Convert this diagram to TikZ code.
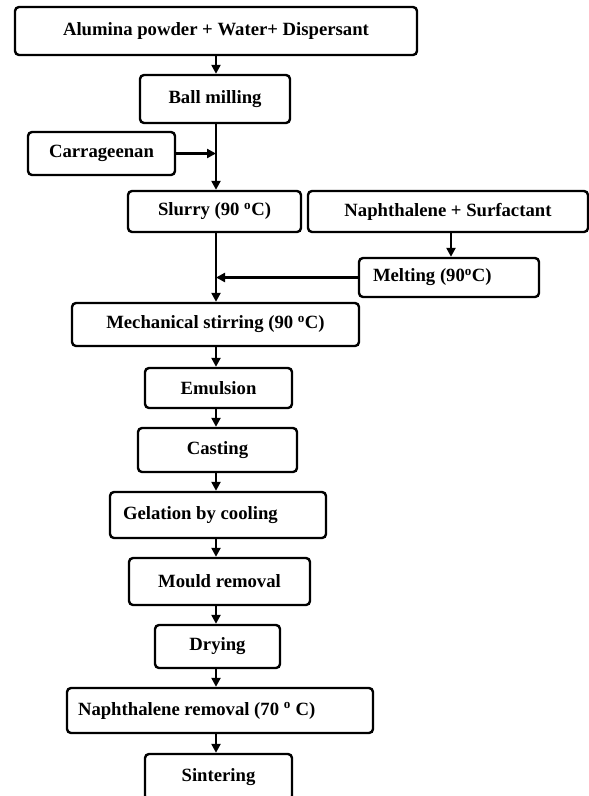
\documentclass[tikz,border=0pt]{standalone}
\usepackage{fontspec}
\setmainfont{Liberation Serif}
\usetikzlibrary{arrows.meta}
\begin{document}
\begin{tikzpicture}[x=1pt,y=-1pt,
  box/.style={draw, line width=2.4pt, rounded corners=4pt, inner sep=0pt,
    font=\bfseries\fontsize{18.7}{21}\selectfont, align=center},
  lbox/.style={box, align=flush left},
  conn/.style={line width=2.6pt, -{Triangle[length=9pt,width=9pt]}}]
\useasboundingbox (0,0) rectangle (589,796);
\coordinate (sp) at (216,0);
\coordinate (nx) at (451,0);
\node[box, minimum width=402pt, minimum height=48pt] (alum) at (216,31) {Alumina powder + Water+ Dispersant};
\node[box, minimum width=150pt, minimum height=48pt] (ball) at (215,99) {Ball milling};
\node[box, minimum width=147pt, minimum height=43pt] (carr) at (101.5,153.5) {Carrageenan};
\node[box, minimum width=173pt, minimum height=41pt] (slurry) at (214.5,211.5) {Slurry (90 \textsuperscript{o}C)};
\node[box, minimum width=280pt, minimum height=41pt] (naph) at (448,211.5) {Naphthalene + Surfactant};
\node[lbox, text width=152pt, inner xsep=14pt, minimum height=39pt] (melt) at (449,277.5) {Melting (90\textsuperscript{o}C)};
\node[box, minimum width=287pt, minimum height=43pt] (mech) at (215.5,324.5) {Mechanical stirring (90 \textsuperscript{o}C)};
\node[box, minimum width=147pt, minimum height=40pt] (emul) at (218.5,388) {Emulsion};
\node[box, minimum width=159pt, minimum height=44pt] (cast) at (217.5,450) {Casting};
\node[lbox, text width=190pt, inner xsep=13pt, minimum height=46pt] (gel) at (218,515) {Gelation by cooling};
\node[box, minimum width=181pt, minimum height=47pt] (mould) at (219.5,581.5) {Mould removal};
\node[box, minimum width=125pt, minimum height=43pt] (dry) at (217.5,646.5) {Drying};
\node[lbox, text width=284pt, inner xsep=11pt, minimum height=45pt] (nrem) at (220,710.5) {Naphthalene removal (70 \textsuperscript{o} C)};
\node[box, minimum width=147pt, minimum height=46pt] (sint) at (218.5,777) {Sintering};
\draw[conn] (alum.south -| sp) -- (ball.north -| sp);
\draw[conn] (ball.south -| sp) -- (slurry.north -| sp);
\draw[conn] (carr.east) -- (carr.east -| sp);
\draw[conn] (slurry.south -| sp) -- (mech.north -| sp);
\draw[conn] (naph.south -| nx) -- (melt.north -| nx);
\draw[conn] (melt.west) -- (melt.west -| sp);
\draw[conn] (mech.south -| sp) -- (emul.north -| sp);
\draw[conn] (emul.south -| sp) -- (cast.north -| sp);
\draw[conn] (cast.south -| sp) -- (gel.north -| sp);
\draw[conn] (gel.south -| sp) -- (mould.north -| sp);
\draw[conn] (mould.south -| sp) -- (dry.north -| sp);
\draw[conn] (dry.south -| sp) -- (nrem.north -| sp);
\draw[conn] (nrem.south -| sp) -- (sint.north -| sp);
\end{tikzpicture}
\end{document}
